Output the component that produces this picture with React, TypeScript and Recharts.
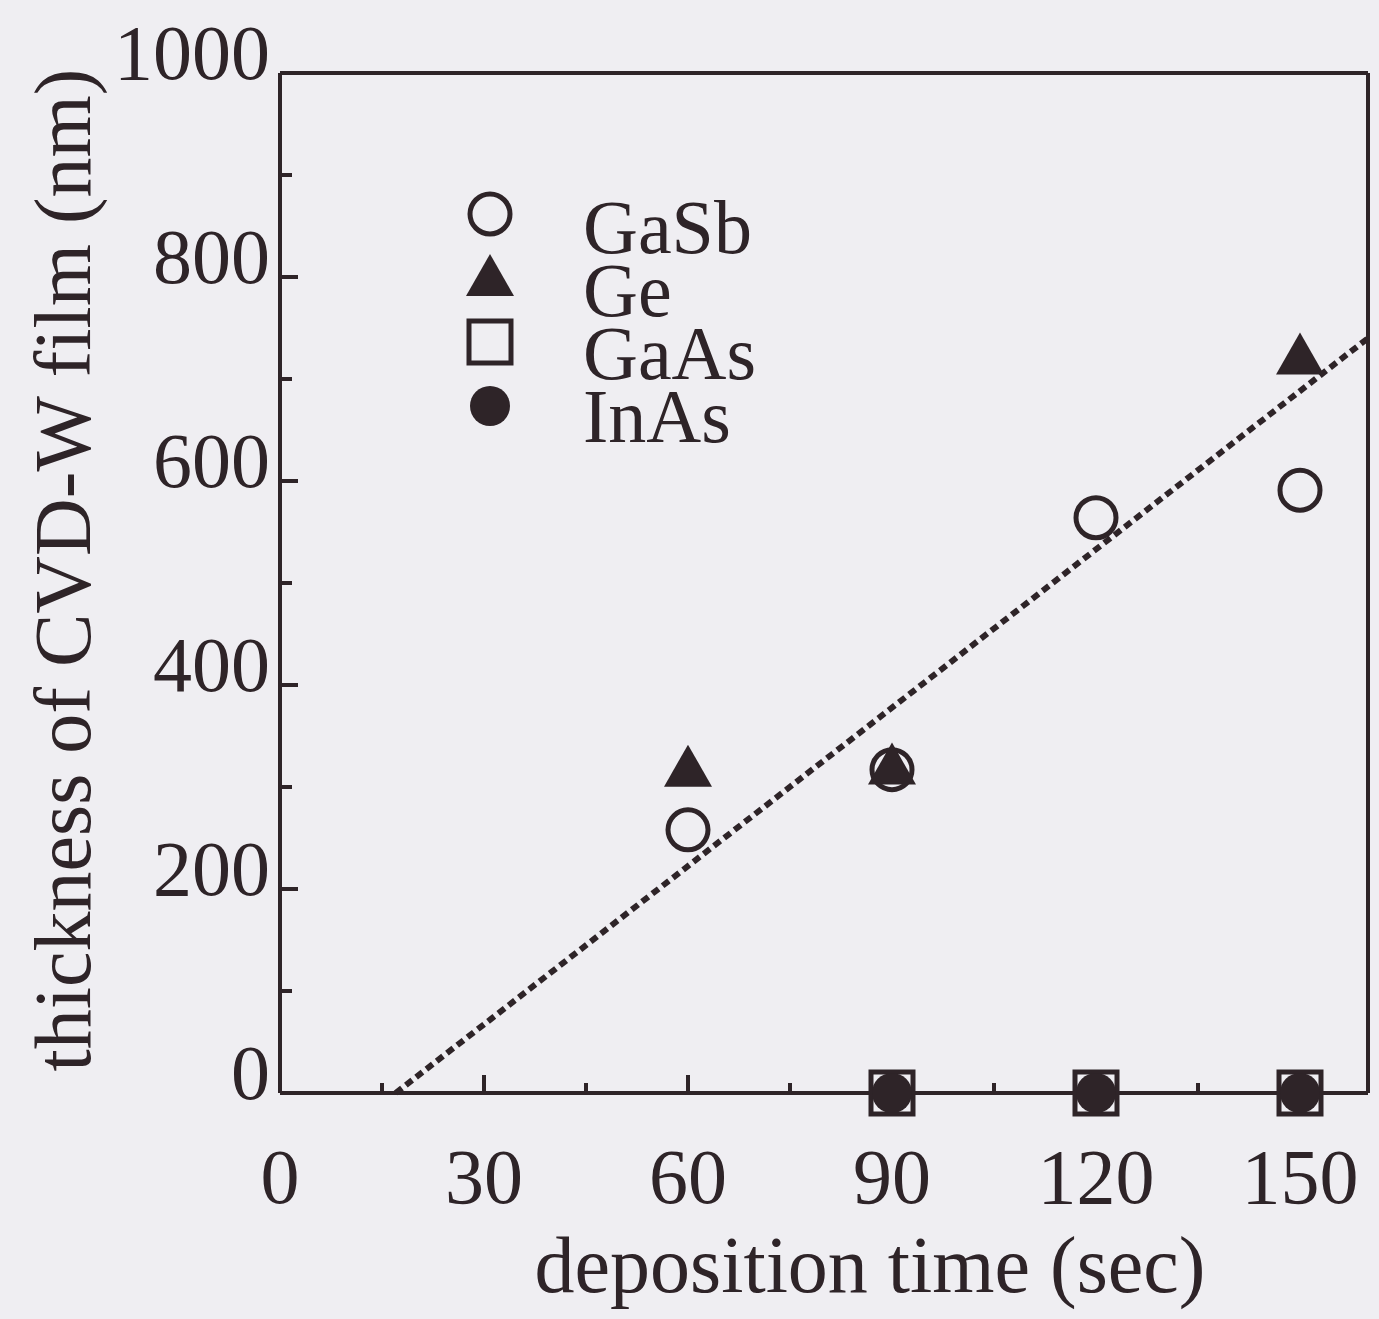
import { ScatterChart, Scatter, XAxis, YAxis, ReferenceLine, Label } from 'recharts'

const INK = '#2e2428'
const BG = '#efeef2'
const FONT = '"Liberation Serif", "Times New Roman", serif'

// deposition time (sec) vs thickness (nm)
const gasb = [
  { x: 60, y: 258 },
  { x: 90, y: 317 },
  { x: 120, y: 564 },
  { x: 150, y: 591 },
]
const ge = [
  { x: 60, y: 318 },
  { x: 90, y: 320 },
  { x: 150, y: 722 },
]
const gaas = [
  { x: 90, y: 0 },
  { x: 120, y: 0 },
  { x: 150, y: 0 },
]
const inas = [
  { x: 90, y: 0 },
  { x: 120, y: 0 },
  { x: 150, y: 0 },
]
const fitLine = [
  { x: 17, y: 0 },
  { x: 160, y: 740 },
]

const xTicks = [0, 15, 30, 45, 60, 75, 90, 105, 120, 135, 150]
const yTicks = [0, 100, 200, 300, 400, 500, 600, 700, 800, 900, 1000]

const legendItems = ['GaSb', 'Ge', 'GaAs', 'InAs']

const openCircle = (cx: number, cy: number) => (
  <circle cx={cx} cy={cy} r={20} fill={BG} stroke={INK} strokeWidth={5} />
)
const filledTri = (cx: number, cy: number) => (
  <polygon points={`${cx},${cy - 24} ${cx + 24},${cy + 18} ${cx - 24},${cy + 18}`} fill={INK} />
)
const openSquare = (cx: number, cy: number) => (
  <rect x={cx - 21} y={cy - 21} width={42} height={42} fill={BG} stroke={INK} strokeWidth={5} />
)
const filledCircle = (cx: number, cy: number) => <circle cx={cx} cy={cy} r={20} fill={INK} />

const markers = [openCircle, filledTri, openSquare, filledCircle]

function XTick(props: any) {
  const { x, y, payload } = props
  const major = payload.value % 30 === 0
  return (
    <g>
      <line x1={x} x2={x} y1={y} y2={y - (major ? 18 : 10)} stroke={INK} strokeWidth={4} />
      {major && (
        <text x={x} y={y + 110} textAnchor="middle" fontSize={78} fontFamily={FONT} fill={INK}>
          {payload.value}
        </text>
      )}
    </g>
  )
}

function YTick(props: any) {
  const { x, y, payload } = props
  const major = payload.value % 200 === 0
  return (
    <g>
      <line x1={x} x2={x + (major ? 18 : 12)} y1={y} y2={y} stroke={INK} strokeWidth={4} />
      {major && (
        <text x={x - 10} y={y + 6} textAnchor="end" fontSize={78} fontFamily={FONT} fill={INK}>
          {payload.value}
        </text>
      )}
    </g>
  )
}

function LegendBox() {
  return (
    <svg width={340} height={280} style={{ position: 'absolute', left: 450, top: 178 }}>
      {legendItems.map((name, i) => (
        <g key={name}>
          {markers[i](40, 36 + i * 64)}
          <text x={133} y={75 + i * 63} fontSize={76} fontFamily={FONT} fill={INK}>
            {name}
          </text>
        </g>
      ))}
    </svg>
  )
}

export default function App() {
  return (
    <div style={{ position: 'absolute', left: 0, top: 0, width: 1379, height: 1319, background: BG }}>
      <ScatterChart width={1379} height={1319} margin={{ top: 73, right: 11, bottom: 0, left: 0 }}>
        <XAxis
          type="number"
          dataKey="x"
          domain={[0, 160]}
          ticks={xTicks}
          interval={0}
          tickSize={0}
          tickMargin={0}
          tickLine={false}
          tick={<XTick />}
          height={226}
          axisLine={{ stroke: INK, strokeWidth: 4 }}
        >
          <Label
            value="deposition time (sec)"
            position="center"
            dx={46}
            dy={58}
            style={{ fontSize: 80, fontFamily: FONT, fill: INK }}
          />
        </XAxis>
        <YAxis
          type="number"
          dataKey="y"
          domain={[0, 1000]}
          ticks={yTicks}
          interval={0}
          tickSize={0}
          tickMargin={0}
          tickLine={false}
          tick={<YTick />}
          width={280}
          axisLine={{ stroke: INK, strokeWidth: 4 }}
        >
          <Label
            value="thickness of CVD-W film (nm)"
            angle={-90}
            position="center"
            dx={-78}
            dy={-13}
            style={{ fontSize: 80, fontFamily: FONT, fill: INK }}
          />
        </YAxis>
        <ReferenceLine y={1000} stroke={INK} strokeWidth={4} ifOverflow="visible" />
        <ReferenceLine x={160} stroke={INK} strokeWidth={4} ifOverflow="visible" />
        <Scatter
          data={fitLine}
          line={{ stroke: INK, strokeWidth: 6, strokeDasharray: '8 5' }}
          shape={() => <g />}
          legendType="none"
          isAnimationActive={false}
        />
        <Scatter name="GaSb" data={gasb} shape={(p: any) => openCircle(p.cx, p.cy)} isAnimationActive={false} />
        <Scatter name="Ge" data={ge} shape={(p: any) => filledTri(p.cx, p.cy)} isAnimationActive={false} />
        <Scatter name="GaAs" data={gaas} shape={(p: any) => openSquare(p.cx, p.cy)} isAnimationActive={false} />
        <Scatter name="InAs" data={inas} shape={(p: any) => filledCircle(p.cx, p.cy)} isAnimationActive={false} />
      </ScatterChart>
      <LegendBox />
    </div>
  )
}
